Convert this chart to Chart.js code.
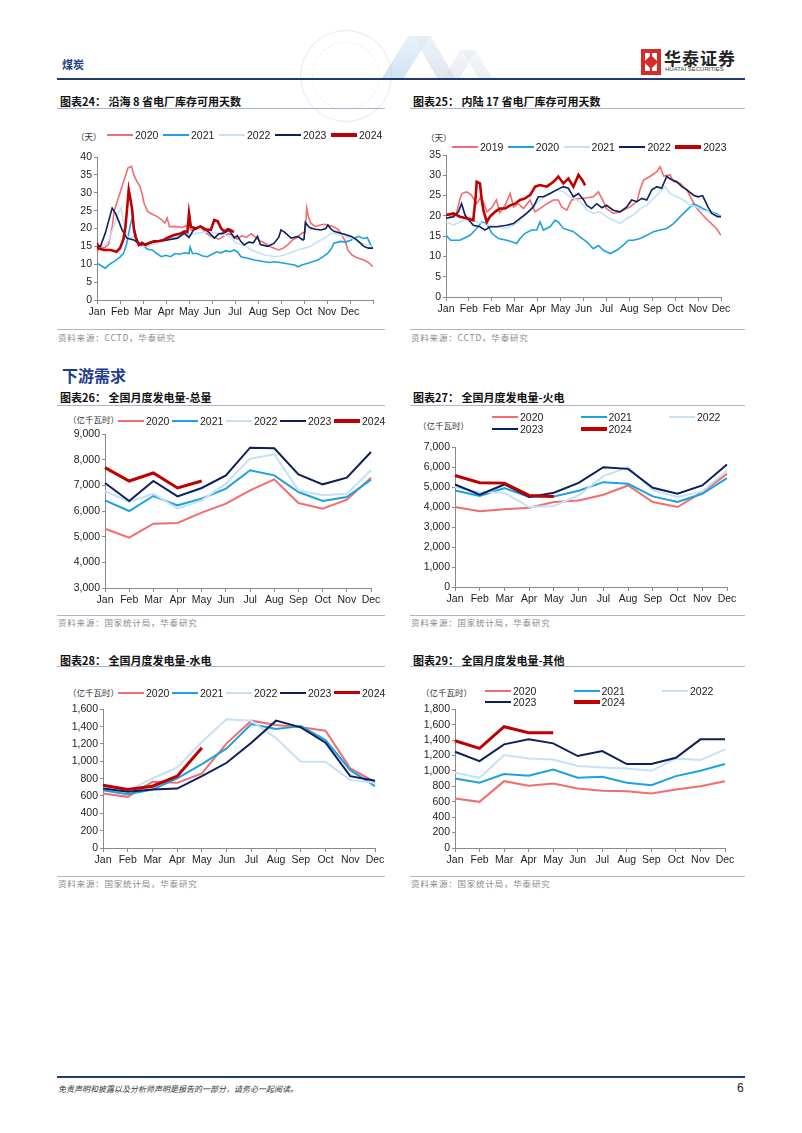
<!DOCTYPE html>
<html lang="zh-CN">
<head>
<meta charset="UTF-8">
<title>煤炭 - 电厂库存与发电量</title>
<script src="https://cdn.jsdelivr.net/npm/chart.js"></script>
<style>
  body { margin: 0; background: #fff; }
  #page { position: relative; width: 802px; height: 1133px; overflow: hidden; background: #fff;
          font-family: 'Noto Sans CJK SC', 'Liberation Sans', sans-serif; color: #222; }
  .abs { position: absolute; white-space: nowrap; }
  .title { font-size: 11px; font-weight: bold; line-height: 14px; color: #111; }
  .rule { position: absolute; height: 1px; background: #a9b6cb; }
  .src { font-size: 8.5px; line-height: 12px; color: #8a8a8a; letter-spacing: 0.8px; }
  .unit { font-size: 8.5px; line-height: 12px; color: #333; }
  .lgline { position: absolute; }
  .lgtext { position: absolute; font-family: 'Liberation Sans', Arial, sans-serif; font-size: 10.5px; line-height: 14px; color: #222; }
  .box { position: absolute; }
  .box canvas { display: block; }
</style>
</head>
<body>
<div id="page">

  <!-- 页眉 -->
  <div class="abs" style="left:300px;top:30px;width:90px;height:90px;border:1px solid #e6e9ed;border-radius:50%;"></div>
  <div class="abs" style="left:312px;top:42px;width:66px;height:66px;border:1px dashed #eaedf1;border-radius:50%;"></div>
  <div class="abs" style="left:395px;top:36px;width:22px;height:42px;background:linear-gradient(#dbe9f4,#b3d0ea);transform:skewX(-32deg);opacity:0.6;"></div>
  <div class="abs" style="left:425px;top:36px;width:18px;height:42px;background:linear-gradient(#e4ecf3,#c6d6e5);transform:skewX(30deg);opacity:0.6;"></div>
  <div class="abs" style="left:452px;top:50px;width:16px;height:28px;background:linear-gradient(#e8edf2,#d2dce6);transform:skewX(-30deg);opacity:0.5;"></div>
  <div class="abs" style="left:470px;top:50px;width:14px;height:28px;background:linear-gradient(#eaeef3,#d8e0e8);transform:skewX(30deg);opacity:0.5;"></div>
  <div class="abs" style="left:62px;top:56px;font-size:11px;font-weight:bold;color:#1f3d8a;">煤炭</div>

  <div class="abs" style="left:641px;top:49px;width:20px;height:26px;background:#d52b2b;"></div>
  <div class="abs" style="left:645px;top:53px;width:5px;height:18px;background:#fff;"></div>
  <div class="abs" style="left:652px;top:53px;width:5px;height:18px;background:#fff;"></div>
  <div class="abs" style="left:646px;top:57px;width:10px;height:10px;background:#d52b2b;transform:rotate(45deg);"></div>
  <div class="abs" style="left:664px;top:45px;font-size:17px;font-weight:bold;color:#222;letter-spacing:1px;">华泰证券</div>
  <div class="abs" style="left:665px;top:66px;font-family:'Liberation Sans',Arial,sans-serif;font-size:6px;color:#444;">HUATAI SECURITIES</div>
  <div class="abs" style="left:57px;top:78px;width:688px;height:2px;background:#1f3a70;"></div>

  <!-- 图表24 / 25 -->
  <div class="abs title" style="left:60px;top:94px;">图表24：&nbsp;沿海 8 省电厂库存可用天数</div>
  <div class="rule" style="left:57px;top:108px;width:328px;"></div>
  <div class="abs unit" style="left:76px;top:130px;">（天）</div>
  <div class="box" id="b24"><canvas id="c24"></canvas></div>
  <div class="rule" style="left:57px;top:329px;width:328px;"></div>
  <div class="abs src" style="left:58px;top:331px;">资料来源：CCTD，华泰研究</div>

  <div class="abs title" style="left:413px;top:94px;">图表25：&nbsp;内陆 17 省电厂库存可用天数</div>
  <div class="rule" style="left:410px;top:108px;width:335px;"></div>
  <div class="abs unit" style="left:426px;top:131px;">（天）</div>
  <div class="box" id="b25"><canvas id="c25"></canvas></div>
  <div class="rule" style="left:410px;top:329px;width:335px;"></div>
  <div class="abs src" style="left:411px;top:331px;">资料来源：CCTD，华泰研究</div>

  <!-- 下游需求 -->
  <div class="abs" style="left:62px;top:363px;font-size:16px;font-weight:bold;color:#1f3d8a;">下游需求</div>

  <div class="abs title" style="left:60px;top:390px;">图表26：&nbsp;全国月度发电量-总量</div>
  <div class="rule" style="left:57px;top:405px;width:328px;"></div>
  <div class="abs unit" style="left:68px;top:413px;">（亿千瓦时）</div>
  <div class="box" id="b26"><canvas id="c26"></canvas></div>
  <div class="rule" style="left:57px;top:615px;width:328px;"></div>
  <div class="abs src" style="left:58px;top:616px;">资料来源：国家统计局，华泰研究</div>

  <div class="abs title" style="left:413px;top:390px;">图表27：&nbsp;全国月度发电量-火电</div>
  <div class="rule" style="left:410px;top:405px;width:335px;"></div>
  <div class="abs unit" style="left:418px;top:419px;">（亿千瓦时）</div>
  <div class="box" id="b27"><canvas id="c27"></canvas></div>
  <div class="rule" style="left:410px;top:615px;width:335px;"></div>
  <div class="abs src" style="left:411px;top:616px;">资料来源：国家统计局，华泰研究</div>

  <div class="abs title" style="left:60px;top:653px;">图表28：&nbsp;全国月度发电量-水电</div>
  <div class="rule" style="left:57px;top:666px;width:328px;"></div>
  <div class="abs unit" style="left:68px;top:686px;">（亿千瓦时）</div>
  <div class="box" id="b28"><canvas id="c28"></canvas></div>
  <div class="rule" style="left:57px;top:876px;width:328px;"></div>
  <div class="abs src" style="left:58px;top:877px;">资料来源：国家统计局，华泰研究</div>

  <div class="abs title" style="left:413px;top:653px;">图表29：&nbsp;全国月度发电量-其他</div>
  <div class="rule" style="left:410px;top:666px;width:335px;"></div>
  <div class="abs unit" style="left:421px;top:686px;">（亿千瓦时）</div>
  <div class="box" id="b29"><canvas id="c29"></canvas></div>
  <div class="rule" style="left:410px;top:876px;width:335px;"></div>
  <div class="abs src" style="left:411px;top:877px;">资料来源：国家统计局，华泰研究</div>

  <!-- 页脚 -->
  <div class="abs" style="left:57px;top:1076px;width:688px;height:2px;background:#1f3a70;"></div>
  <div class="abs" style="left:58px;top:1083px;font-size:8px;font-style:italic;color:#333;">免责声明和披露以及分析师声明是报告的一部分，请务必一起阅读。</div>
  <div class="abs" style="left:737px;top:1081px;font-family:'Liberation Sans',Arial,sans-serif;font-size:12px;color:#222;">6</div>
</div>

<script>
  // 月份标签
  const months = ['Jan', 'Feb', 'Mar', 'Apr', 'May', 'Jun', 'Jul', 'Aug', 'Sep', 'Oct', 'Nov', 'Dec'];
  const ticks25 = ['Jan', 'Feb', 'Feb', 'Mar', 'Apr', 'May', 'Jun', 'Jul', 'Aug', 'Sep', 'Oct', 'Nov', 'Dec'];

  // 图表24：沿海8省 [月份位置, 天数]
  const c24_2020 = [[0,13],[0.1,15],[0.3,14.5],[0.5,15.5],[0.65,20],[0.75,25],[0.9,28],[1.05,31],[1.2,34],[1.35,37],[1.5,37.4],[1.6,35],[1.75,33],[1.85,32],[1.95,30],[2.05,27],[2.2,24.8],[2.4,24],[2.6,23.4],[2.8,22.5],[2.95,21.5],[3.05,22.9],[3.15,20.5],[3.4,20.6],[3.7,20.3],[3.95,21],[4.1,19.5],[4.3,19.8],[4.5,20.5],[4.7,19],[4.9,18],[5.1,17.5],[5.3,17],[5.5,17.8],[5.7,18.5],[5.9,18.2],[6.1,17],[6.3,18],[6.5,17.5],[6.7,18.5],[6.9,17.5],[7.1,16.5],[7.3,15.9],[7.5,15],[7.7,14.5],[7.9,14],[8.1,14.5],[8.3,15.5],[8.5,16.8],[8.7,17.5],[8.9,18.7],[9.05,19],[9.12,25.7],[9.2,23],[9.3,21.5],[9.5,20.5],[9.7,21],[9.9,21.2],[10.1,20.8],[10.3,20.5],[10.5,19.6],[10.7,17.5],[10.8,16.4],[10.9,14],[11.1,12.5],[11.3,11.8],[11.6,11.2],[11.8,10.5],[12,9.3]];
  const c24_2021 = [[0,10.3],[0.2,9.5],[0.36,8.9],[0.55,10],[0.8,11],[1.0,12],[1.16,13.1],[1.3,16],[1.45,21],[1.53,22.9],[1.62,20],[1.75,16.5],[1.9,15.5],[2.05,15],[2.2,14.2],[2.4,14],[2.6,13],[2.8,12.1],[3.0,12.5],[3.2,12.1],[3.4,13],[3.6,12.8],[3.8,13.2],[4.0,13],[4.05,14.8],[4.15,13],[4.35,13],[4.6,12.3],[4.8,12.1],[5.0,12.8],[5.2,13.5],[5.4,13.2],[5.6,13.8],[5.8,13.5],[5.95,14],[6.1,13.5],[6.26,12.1],[6.55,11.7],[6.84,11.2],[7.05,11],[7.28,10.7],[7.5,10.5],[7.72,10.7],[7.95,10.5],[8.15,10.3],[8.4,10],[8.6,9.8],[8.73,9.3],[8.9,9.8],[9.17,10.3],[9.4,10.8],[9.6,11.2],[9.8,12],[10.04,13.1],[10.2,14.5],[10.3,15.9],[10.6,16.4],[10.8,16.2],[11.06,16.8],[11.35,17.8],[11.6,17.2],[11.75,17.5],[11.9,15.4],[12,14.5]];
  const c24_2022 = [[0,15],[0.3,15.3],[0.5,16.5],[0.73,20.6],[0.9,24],[1.05,25.7],[1.15,22],[1.3,18],[1.45,17],[1.6,17.8],[1.75,16],[1.9,15],[2.2,15],[2.6,15.9],[3.06,16.8],[3.5,17.8],[3.93,18.2],[4.37,18.7],[4.8,19],[5.24,18.7],[5.5,18.2],[5.8,17.8],[6.0,16],[6.26,15.6],[6.5,15],[6.7,14],[7.0,13.3],[7.28,12.6],[7.5,12.4],[7.72,12.1],[7.95,12.3],[8.15,12.6],[8.45,13.3],[8.73,14],[9.0,14.5],[9.3,15],[9.5,16],[9.74,16.8],[10.0,17.8],[10.2,18.7],[10.4,18.5],[10.6,18.2],[10.8,17.8],[11.06,17.3],[11.3,16.5],[11.5,15.9],[11.75,15.3],[12,15]];
  const c24_2023 = [[0,15.5],[0.15,15],[0.36,18.7],[0.5,22],[0.66,25.7],[0.8,24.3],[0.95,22],[1.09,19.6],[1.3,17.3],[1.6,16.8],[1.9,15.4],[2.2,15.9],[2.6,16.4],[3.06,16.8],[3.5,17.3],[3.8,18.7],[4.0,17.5],[4.2,19.6],[4.45,20.5],[4.65,20.1],[4.85,19],[5.1,17.3],[5.3,18.5],[5.5,18.7],[5.75,19.5],[5.97,17.3],[6.1,18],[6.25,16.4],[6.4,15.4],[6.6,16.2],[6.8,16],[6.98,17.8],[7.1,15.5],[7.43,15],[7.7,15.9],[7.9,17.5],[8.0,19.6],[8.15,19],[8.44,17.3],[8.73,17.8],[8.95,16.8],[9.0,17],[9.06,21.7],[9.2,20.5],[9.3,20.1],[9.5,19.8],[9.74,19.6],[9.95,20],[10.04,21],[10.15,20],[10.3,19.2],[10.6,18.7],[10.8,18.3],[11.06,17.8],[11.3,16.8],[11.6,15],[11.8,14.5],[12,14.5]];
  const c24_2024 = [[0,16],[0.05,14.5],[0.3,14],[0.6,14],[0.85,13.5],[1.0,14.5],[1.15,17],[1.24,20.6],[1.38,30.8],[1.46,28],[1.53,25.2],[1.6,20],[1.67,17.8],[1.82,15.4],[1.95,16],[2.1,15.4],[2.3,16],[2.47,16.4],[2.7,16.5],[2.9,16.8],[3.1,17.5],[3.35,18.2],[3.6,18.5],[3.8,19.2],[3.93,19],[4.0,24.3],[4.08,20.5],[4.3,20],[4.5,20.6],[4.7,19.8],[4.95,19.6],[5.05,21.5],[5.1,22.4],[5.25,22],[5.4,20],[5.53,19.2],[5.7,19.8],[5.8,19.6],[5.95,19]];

  // 图表25：内陆17省 [月份位置, 天数]
  const c25_2019 = [[0,20.6],[0.2,19.8],[0.45,20.5],[0.6,24],[0.69,25.5],[0.9,25.9],[1.1,25.2],[1.34,23],[1.5,24.5],[1.63,23.5],[1.78,21],[2.0,22],[2.2,23.9],[2.35,20.8],[2.58,22.6],[2.8,25.5],[2.95,22.2],[3.16,23],[3.38,21.8],[3.67,23.9],[3.88,21],[4.1,21.8],[4.4,23],[4.69,23.9],[4.9,23.9],[5.05,22.2],[5.27,21.4],[5.48,23.9],[5.85,24.3],[6.1,24.4],[6.43,24.7],[6.65,25.9],[6.87,23.5],[7.0,21.8],[7.3,20.6],[7.6,21],[8.03,22.2],[8.33,23.5],[8.45,26.2],[8.62,28.8],[8.9,29.7],[9.2,30.9],[9.34,32.1],[9.5,29.8],[9.78,30.1],[9.92,28.5],[10.22,28],[10.51,26.4],[10.7,24.3],[10.9,22.2],[11.2,20.2],[11.5,18.5],[11.8,16.9],[12,15.2]];
  const c25_2020 = [[0,15.2],[0.2,14],[0.61,14],[1.05,15.2],[1.34,16.9],[1.56,18.5],[1.78,18.1],[2.0,15.7],[2.29,14.4],[2.65,14],[2.87,13.6],[3.09,13.2],[3.23,14.4],[3.45,15.7],[3.74,16.5],[3.96,16.5],[4.1,18.5],[4.25,16.5],[4.54,17.3],[4.76,18.9],[4.9,18.5],[5.12,16.9],[5.34,16.5],[5.56,16.1],[5.85,14.8],[6.14,13.6],[6.43,11.9],[6.65,12.7],[6.87,11.5],[7.16,10.7],[7.45,11.5],[7.74,12.8],[7.96,14],[8.18,14],[8.47,14.4],[8.76,15.2],[9.05,16.1],[9.34,16.5],[9.63,16.9],[9.93,18.1],[10.22,19.8],[10.51,21.4],[10.8,23],[10.94,22.6],[11.2,21.8],[11.5,21],[11.8,20.6],[12,19.8]];
  const c25_2021 = [[0,18.5],[0.33,17.7],[0.76,18.9],[1.05,19.8],[1.34,18.5],[1.63,18.1],[1.92,17.7],[2.2,17.3],[2.58,16.9],[2.94,17.7],[3.23,18.9],[3.52,20.6],[3.81,22.2],[4.1,23.9],[4.54,25.5],[4.83,26.4],[5.12,26],[5.41,24.7],[5.7,23.9],[5.95,23],[6.14,21.4],[6.43,20.6],[6.72,21],[7.0,19.8],[7.3,18.9],[7.6,18.1],[7.89,19.4],[8.18,20.2],[8.47,21.8],[8.76,22.6],[9.05,24.3],[9.34,25.9],[9.56,27.2],[9.78,25.5],[10.07,24.7],[10.36,23.9],[10.65,22.6],[10.94,22.2],[11.2,21.4],[11.5,21],[11.8,20.2],[12,19.8]];
  const c25_2022 = [[0,19.4],[0.33,19.8],[0.54,21],[0.68,23],[0.83,20.2],[1.0,19],[1.19,17.7],[1.48,17.3],[1.7,16.5],[1.92,17.3],[2.2,17.3],[2.65,17.7],[2.94,18.1],[3.23,19.4],[3.52,20.6],[3.81,22.2],[4.03,24.7],[4.25,24.7],[4.54,25.5],[4.83,26.4],[5.12,27.2],[5.34,26.8],[5.56,24.7],[5.78,25.5],[6.0,24],[6.14,22.6],[6.35,21.8],[6.58,23],[6.8,22],[7.0,22.6],[7.3,21.4],[7.6,21],[7.89,22.2],[8.1,23.9],[8.33,23.5],[8.55,24.3],[8.76,23.9],[8.98,26.4],[9.2,27.2],[9.41,26.8],[9.63,29.7],[9.85,28.9],[10.07,28.4],[10.29,27.2],[10.51,26.4],[10.8,25.1],[11.0,24.7],[11.2,25],[11.43,22.2],[11.6,20.6],[11.85,19.8],[12,19.8]];
  const c25_2023 = [[0,20.2],[0.33,20.6],[0.61,19.8],[0.9,19.4],[1.19,18.9],[1.3,25],[1.34,28.4],[1.48,28],[1.56,24],[1.63,21.4],[1.78,18.5],[1.92,19.8],[2.14,21],[2.35,21.8],[2.58,21.8],[2.8,22.6],[3.01,23],[3.23,23.9],[3.45,24.3],[3.67,25.1],[3.89,27.2],[4.1,27.6],[4.4,27.2],[4.69,28.4],[4.9,29.7],[5.12,28],[5.34,29.2],[5.56,27.2],[5.78,30.1],[5.95,28.8],[6.07,27.5]];

  // 图表26：全国月度发电量-总量（亿千瓦时）
  const tot2020 = [5315, 4964, 5510, 5536, 5940, 6292, 6813, 7242, 6318, 6096, 6448, 7307];
  const tot2021 = [6422, 6005, 6591, 6227, 6487, 6878, 7594, 7398, 6747, 6396, 6552, 7229];
  const tot2022 = [6786, 6357, 6682, 6096, 6422, 7073, 8049, 8219, 6812, 6617, 6682, 7594];
  const tot2023 = [7099, 6396, 7177, 6578, 6904, 7398, 8479, 8453, 7438, 7047, 7307, 8310];
  const tot2024 = [7698, 7177, 7490, 6904, 7177];

  // 图表27：火电
  const th2020 = [4007, 3791, 3891, 3974, 4257, 4340, 4623, 5088, 4257, 4007, 4756, 5670];
  const th2021 = [4839, 4556, 4955, 4506, 4539, 4822, 5254, 5171, 4539, 4257, 4672, 5454];
  const th2022 = [5005, 4756, 4722, 4007, 4057, 4589, 5554, 6003, 4839, 4506, 4789, 5836];
  const th2023 = [5138, 4623, 5138, 4506, 4722, 5221, 6003, 5919, 4972, 4672, 5088, 6136];
  const th2024 = [5587, 5221, 5205, 4589, 4539];

  // 图表28：水电
  const hy2020 = [628, 590, 763, 752, 860, 1207, 1469, 1419, 1392, 1353, 918, 763];
  const hy2021 = [667, 621, 675, 802, 968, 1149, 1430, 1373, 1407, 1245, 898, 713];
  const hy2022 = [698, 659, 802, 929, 1226, 1484, 1469, 1265, 995, 995, 783, 752];
  const hy2023 = [686, 648, 675, 686, 829, 983, 1214, 1469, 1392, 1214, 829, 775];
  const hy2024 = [725, 675, 713, 829, 1157];

  // 图表29：其他
  const ot2020 = [642, 599, 867, 807, 837, 772, 742, 737, 707, 759, 802, 867];
  const ot2021 = [902, 846, 959, 937, 1019, 911, 924, 846, 815, 933, 1002, 1089];
  const ot2022 = [976, 911, 1206, 1162, 1149, 1063, 1045, 1032, 1002, 1162, 1141, 1280];
  const ot2023 = [1249, 1128, 1345, 1410, 1358, 1193, 1258, 1089, 1089, 1171, 1410, 1410];
  const ot2024 = [1392, 1293, 1574, 1496, 1496];

  const COL = ['#f26d6d', '#1ba2df', '#c4e2f5', '#0d1f5c', '#c00000'];

  Chart.defaults.font.family = "'Liberation Sans', Arial, sans-serif";
  Chart.defaults.font.size = 10.5;
  Chart.defaults.color = '#222';

  const page = document.getElementById('page');

  function legend(names, x0, y0, dx, cols, dy, lw) {
    names.forEach((name, i) => {
      const x = x0 + (i % cols) * dx;
      const y = y0 + Math.floor(i / cols) * dy;
      const w = i === 4 ? lw + 1.5 : lw;
      const ln = document.createElement('div');
      ln.className = 'lgline';
      ln.style.cssText = `left:${x}px;top:${y - w / 2}px;width:26px;height:${w}px;background:${COL[i]}`;
      const tx = document.createElement('div');
      tx.className = 'lgtext';
      tx.style.cssText = `left:${x + 28}px;top:${y - 7}px`;
      tx.textContent = name;
      page.append(ln, tx);
    });
  }

  function makeDatasets(names, series, pairs, lw) {
    return series.map((s, i) => ({
      label: names[i],
      data: pairs ? s.map(([x, y]) => ({ x, y })) : s,
      borderColor: COL[i],
      borderWidth: i === 4 ? lw + 1 : lw,
      pointRadius: 0,
      tension: 0,
      fill: false,
      order: 5 - i
    }));
  }

  function draw(id, box, datasets, x, y) {
    const wrap = document.getElementById('b' + id);
    Object.assign(wrap.style, { left: box.l + 'px', top: box.t + 'px', width: box.w + 'px', height: box.h + 'px' });
    const axis = '#8a8a8a';
    new Chart(document.getElementById('c' + id), {
      type: 'line',
      data: { labels: x.labels, datasets },
      options: {
        responsive: true,
        maintainAspectRatio: false,
        animation: false,
        layout: { padding: { top: box.pt, right: box.pr, left: 0, bottom: 0 } },
        plugins: { legend: { display: false }, tooltip: { enabled: false } },
        scales: {
          x: Object.assign({
            ticks: { autoSkip: false, maxRotation: 0, padding: 2 },
            grid: { drawOnChartArea: false, drawTicks: true, tickLength: 4, color: axis },
            border: { color: axis },
            afterFit: s => { s.height = 22; }
          }, x.opts),
          y: {
            min: y.min, max: y.max,
            ticks: { stepSize: y.step, autoSkip: false, padding: 2, callback: v => v.toLocaleString('en-US') },
            grid: { drawOnChartArea: false, drawTicks: true, tickLength: 3, color: axis },
            border: { color: axis },
            afterFit: s => { s.width = box.yw; }
          }
        }
      }
    });
  }

  const linearX = labels => ({
    labels: undefined,
    opts: { type: 'linear', min: 0, max: 12, ticks: { autoSkip: false, maxRotation: 0, padding: 2, stepSize: 1, callback: v => labels[v] ?? '' } }
  });
  const catX = { labels: months, opts: { type: 'category', offset: false } };

  const n24 = ['2020', '2021', '2022', '2023', '2024'];
  const n25 = ['2019', '2020', '2021', '2022', '2023'];

  legend(n24, 107, 135, 56, 5, 0, 2);
  draw('24', { l: 57, t: 148, w: 324, h: 174, yw: 40, pt: 9, pr: 8 },
    makeDatasets(n24, [c24_2020, c24_2021, c24_2022, c24_2023, c24_2024], true, 1.6),
    linearX(months), { min: 0, max: 40, step: 5 });

  legend(n25, 452, 147, 55.8, 5, 0, 2);
  draw('25', { l: 408, t: 146, w: 325, h: 173, yw: 38, pt: 9, pr: 12 },
    makeDatasets(n25, [c25_2019, c25_2020, c25_2021, c25_2022, c25_2023], true, 1.6),
    linearX(ticks25), { min: 0, max: 35, step: 5 });

  legend(n24, 118, 421, 54, 5, 0, 2);
  draw('26', { l: 57, t: 426, w: 326, h: 184, yw: 48, pt: 8, pr: 12 },
    makeDatasets(n24, [tot2020, tot2021, tot2022, tot2023, tot2024], false, 2),
    catX, { min: 3000, max: 9000, step: 1000 });

  legend(n24, 492, 416.5, 88.5, 3, 12.5, 2);
  draw('27', { l: 408, t: 439, w: 331, h: 170, yw: 47, pt: 8, pr: 12 },
    makeDatasets(n24, [th2020, th2021, th2022, th2023, th2024], false, 2),
    catX, { min: 0, max: 7000, step: 1000 });

  legend(n24, 118, 692.5, 54, 5, 0, 2);
  draw('28', { l: 57, t: 701, w: 330, h: 169, yw: 46, pt: 8, pr: 12 },
    makeDatasets(n24, [hy2020, hy2021, hy2022, hy2023, hy2024], false, 2),
    catX, { min: 0, max: 1600, step: 200 });

  legend(n24, 485, 690.5, 88.5, 3, 11.5, 2);
  draw('29', { l: 408, t: 701, w: 329, h: 169, yw: 47, pt: 8, pr: 12 },
    makeDatasets(n24, [ot2020, ot2021, ot2022, ot2023, ot2024], false, 2),
    catX, { min: 0, max: 1800, step: 200 });
</script>
</body>
</html>
